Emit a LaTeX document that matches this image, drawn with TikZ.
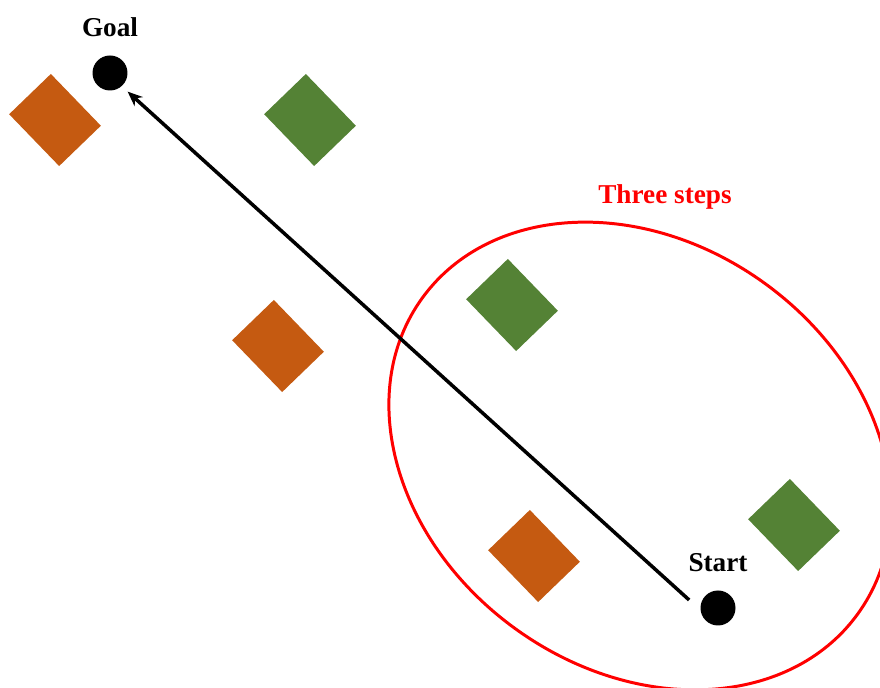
\documentclass[tikz,border=0pt]{standalone}
\usepackage{fontspec}
\setmainfont{Liberation Serif}
\usepackage{xcolor}
\usetikzlibrary{arrows.meta}
\usetikzlibrary{positioning}
\definecolor{obstorange}{HTML}{C55A11}
\definecolor{obstgreen}{HTML}{548235}

\begin{document}
\begin{tikzpicture}
          [x=0.02cm, y=-0.02cm,
           point/.style={draw=none, circle, fill=black, minimum size=0.7cm, inner sep=0pt},
           block/.style={draw=none, rectangle, minimum width=1.44cm, minimum height=1.16cm, rotate=-46, inner sep=0pt},
           lbl/.style={font=\bfseries\fontsize{15.5pt}{18pt}\selectfont}]
          \useasboundingbox (0,0) rectangle (880,688);
          \clip (0,0) rectangle (880,688);

          \node (goal) [point] at (110,73) {};
          \node (start) [point] at (718,608) {};
          \node (goallbl) [lbl, above = 0.24cm of goal] {Goal};
          \node (startlbl) [lbl, above = 0.24cm of start] {Start};

          \node (o1) [block, fill=obstorange] at (55,120) {};
          \node (o2) [block, fill=obstorange] at (278,346) {};
          \node (o3) [block, fill=obstorange] at (534,556) {};
          \node (g1) [block, fill=obstgreen] at (310,120) {};
          \node (g2) [block, fill=obstgreen] at (512,305) {};
          \node (g3) [block, fill=obstgreen] at (794,525) {};

          % reachable region
          \coordinate (reach) at (640,456);
          \draw[red, line width=1.7pt, rotate around={-36:(reach)}] (reach) ellipse [x radius=269, y radius=213];
          \node (reachlbl) [lbl, text=red, anchor=base] at (665,204) {Three steps};

          \draw[line width=2pt, -{Stealth[length=8.5pt, width=7pt]}] ([shift={(-11,-8)}]start.west) -- ([shift={(5,6)}]goal.south east);
        \end{tikzpicture}
\end{document}
